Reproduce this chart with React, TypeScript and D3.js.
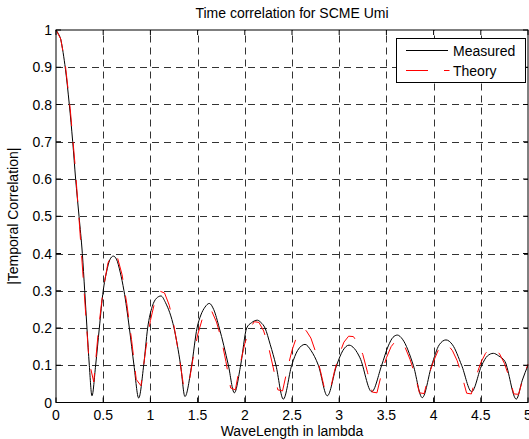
import React from "react";
import * as d3 from "d3";

const W = 529;
const H = 439;

const title = "Time correlation for SCME Umi";
const xLabel = "WaveLength in lambda";
const yLabel = "|Temporal Correlation|";
const seriesNames = ["Measured", "Theory"];

const xTicks = [0, 0.5, 1, 1.5, 2, 2.5, 3, 3.5, 4, 4.5, 5];
const xTickLabels = ["0", "0.5", "1", "1.5", "2", "2.5", "3", "3.5", "4", "4.5", "5"];
const yTicks = [0, 0.1, 0.2, 0.3, 0.4, 0.5, 0.6, 0.7, 0.8, 0.9, 1];
const yTickLabels = ["0", "0.1", "0.2", "0.3", "0.4", "0.5", "0.6", "0.7", "0.8", "0.9", "1"];

// Theory: sampled every 0.05 lambda
const theoryStep = 0.05;
const theoryY = [
  1.0, 0.976, 0.904, 0.79, 0.643, 0.472, 0.291, 0.111, 0.055, 0.196,
  0.304, 0.374, 0.402, 0.39, 0.343, 0.265, 0.169, 0.062, 0.045, 0.142,
  0.22, 0.274, 0.299, 0.294, 0.261, 0.205, 0.131, 0.047, 0.039, 0.116,
  0.181, 0.225, 0.248, 0.245, 0.216, 0.172, 0.11, 0.039, 0.034, 0.102,
  0.158, 0.197, 0.217, 0.215, 0.192, 0.151, 0.095, 0.034, 0.031, 0.089,
  0.14, 0.177, 0.195, 0.193, 0.173, 0.136, 0.086, 0.031, 0.028, 0.084,
  0.129, 0.162, 0.178, 0.177, 0.159, 0.129, 0.081, 0.028, 0.026, 0.079,
  0.12, 0.15, 0.166, 0.165, 0.147, 0.116, 0.076, 0.026, 0.024, 0.075,
  0.111, 0.141, 0.156, 0.155, 0.139, 0.112, 0.072, 0.025, 0.023, 0.07,
  0.107, 0.132, 0.146, 0.145, 0.13, 0.105, 0.068, 0.023, 0.022, 0.067,
  0.103,
];

// Measured: points
const measuredX = [
  0, 0.025, 0.05, 0.075, 0.1, 0.141, 0.177, 0.208, 0.244, 0.279, 0.304, 0.328, 0.353, 0.381,
  0.42, 0.459, 0.5, 0.535, 0.57, 0.607, 0.64, 0.68, 0.72, 0.777, 0.826, 0.876,
  0.929, 0.971, 1.02, 1.065, 1.112, 1.16, 1.25, 1.32, 1.366,
  1.437, 1.494, 1.535, 1.578, 1.624, 1.67, 1.73, 1.826, 1.889,
  1.956, 2.02, 2.07, 2.133, 2.17, 2.214, 2.27, 2.33, 2.408,
  2.497, 2.56, 2.638, 2.7, 2.779, 2.874,
  2.973, 3.04, 3.104, 3.16, 3.22, 3.344,
  3.45, 3.52, 3.57, 3.616, 3.67, 3.785, 3.88,
  3.98, 4.06, 4.131, 4.2, 4.297, 4.403,
  4.51, 4.57, 4.633, 4.69, 4.756, 4.876, 4.94, 5.0,
];
const measuredY = [
  1.0, 0.99, 0.975, 0.94, 0.895, 0.8, 0.7, 0.6, 0.5, 0.4, 0.3, 0.2, 0.1, 0.018,
  0.1, 0.2, 0.3, 0.35, 0.383, 0.393, 0.385, 0.35, 0.3, 0.2, 0.1, 0.012,
  0.1, 0.2, 0.258, 0.28, 0.286, 0.268, 0.2, 0.1, 0.016,
  0.1, 0.2, 0.235, 0.256, 0.266, 0.25, 0.2, 0.1, 0.026,
  0.1, 0.2, 0.214, 0.221, 0.215, 0.2, 0.155, 0.1, 0.009,
  0.1, 0.14, 0.156, 0.14, 0.1, 0.018,
  0.1, 0.14, 0.154, 0.145, 0.12, 0.029,
  0.1, 0.152, 0.175, 0.181, 0.17, 0.1, 0.013,
  0.1, 0.155, 0.168, 0.155, 0.1, 0.029,
  0.1, 0.125, 0.132, 0.125, 0.11, 0.009, 0.06, 0.1,
];

const FONT = "'Liberation Sans', Arial, Helvetica, sans-serif";

export default function App() {
  const left = 56, right = 528, top = 30, bottom = 402.5;
  const x = d3.scaleLinear().domain([0, 5]).range([left, right]);
  const y = d3.scaleLinear().domain([0, 1]).range([bottom, top]);

  const theory: [number, number][] = theoryY.map((v, i) => [i * theoryStep, v]);
  const measured: [number, number][] = measuredX.map((v, i) => [v, measuredY[i]]);

  const lineLin = d3.line<[number, number]>().x((d) => x(d[0])).y((d) => y(d[1]));
  const lineSmooth = d3
    .line<[number, number]>()
    .x((d) => x(d[0]))
    .y((d) => y(d[1]))
    .curve(d3.curveMonotoneX);

  const tickLen = 5;
  const gridDash = "7,5";
  const gridColor = "#333";

  return (
    <svg
      width={W}
      height={H}
      style={{ position: "absolute", left: 0, top: 0, background: "#fff" }}
      fontFamily={FONT}
    >
      <rect x={0} y={0} width={W} height={H} fill="#fff" />
      {/* grid */}
      {xTicks.slice(1, -1).map((t) => (
        <line
          key={"gx" + t}
          x1={Math.round(x(t)) + 0.5}
          x2={Math.round(x(t)) + 0.5}
          y1={bottom}
          y2={top}
          stroke={gridColor}
          strokeWidth={1}
          strokeDasharray={gridDash}
        />
      ))}
      {yTicks.slice(1, -1).map((t) => (
        <line
          key={"gy" + t}
          x1={left}
          x2={right}
          y1={Math.round(y(t)) + 0.5}
          y2={Math.round(y(t)) + 0.5}
          stroke={gridColor}
          strokeWidth={1}
          strokeDasharray={gridDash}
        />
      ))}
      {/* data */}
      <path d={lineSmooth(measured) || ""} fill="none" stroke="#000" strokeWidth={1} />
      <path
        d={lineLin(theory) || ""}
        fill="none"
        stroke="#ff0000"
        strokeWidth={1}
        strokeDasharray="22,16"
      />
      {/* axes box */}
      <rect
        x={left}
        y={top}
        width={right - left}
        height={bottom - top}
        fill="none"
        stroke="#000"
        strokeWidth={1}
      />
      {/* ticks */}
      {xTicks.map((t, i) => (
        <g key={"xt" + t}>
          <line x1={x(t)} x2={x(t)} y1={bottom} y2={bottom - tickLen} stroke="#000" />
          <line x1={x(t)} x2={x(t)} y1={top} y2={top + tickLen} stroke="#000" />
          <text x={x(t)} y={420} fontSize={14} textAnchor="middle" fill="#000">
            {xTickLabels[i]}
          </text>
        </g>
      ))}
      {yTicks.map((t, i) => (
        <g key={"yt" + t}>
          <line x1={left} x2={left + tickLen} y1={y(t)} y2={y(t)} stroke="#000" />
          <line x1={right} x2={right - tickLen} y1={y(t)} y2={y(t)} stroke="#000" />
          <text x={52} y={y(t) + 5} fontSize={14} textAnchor="end" fill="#000">
            {yTickLabels[i]}
          </text>
        </g>
      ))}
      {/* labels */}
      <text x={(left + right) / 2} y={18} fontSize={14} textAnchor="middle" fill="#000">
        {title}
      </text>
      <text x={(left + right) / 2} y={436} fontSize={14} textAnchor="middle" fill="#000">
        {xLabel}
      </text>
      <text
        transform={`translate(18,${(top + bottom) / 2}) rotate(-90)`}
        fontSize={14}
        textAnchor="middle"
        fill="#000"
      >
        {yLabel}
      </text>
      {/* legend */}
      <g>
        <rect x={396.5} y={38.5} width={129} height={44} fill="#fff" stroke="#000" strokeWidth={1} />
        <line x1={406} x2={448} y1={50.5} y2={50.5} stroke="#000" strokeWidth={1} />
        <text x={453} y={55.5} fontSize={14} fill="#000">
          {seriesNames[0]}
        </text>
        <line
          x1={406}
          x2={449.5}
          y1={70.5}
          y2={70.5}
          stroke="#ff0000"
          strokeWidth={1}
          strokeDasharray="22,16"
        />
        <text x={453} y={75.5} fontSize={14} fill="#000">
          {seriesNames[1]}
        </text>
      </g>
    </svg>
  );
}
